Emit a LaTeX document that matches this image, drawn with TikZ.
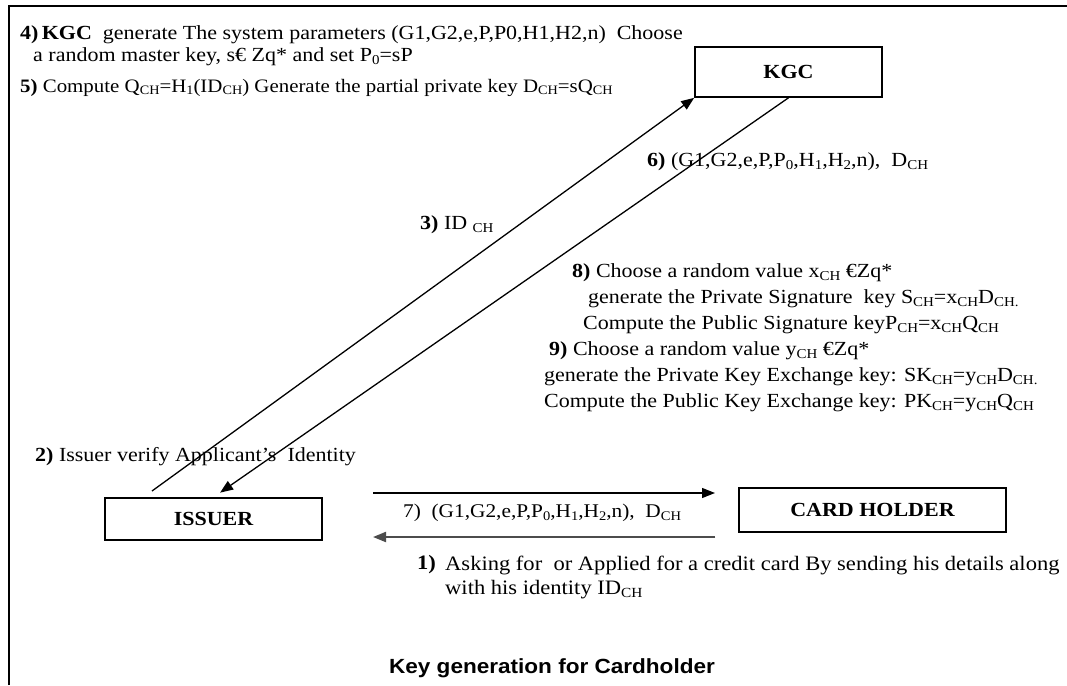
\documentclass[tikz,border=0pt]{standalone}
\usepackage{fontspec}
\setmainfont{Liberation Serif}[FakeStretch=1.1]
\newfontfamily\titlefont{Liberation Sans}[FakeStretch=1.1]
\usetikzlibrary{arrows.meta}
% small lowered index letters, as in D_CH, P_0, H_1
\newcommand\sbx[1]{\raisebox{-0.12em}{\scalebox{0.68}{#1}}}
\newcommand\fs[1]{\fontsize{#1}{24}\selectfont}
\tikzset{
  box/.style={draw, line width=1.6pt, inner sep=0pt,
    font=\fs{20}\bfseries},
  arr/.style={line width=1.3pt, -{Triangle[length=13pt,width=10pt]}},
  txt/.style={anchor=west, inner sep=0pt, font=\fs{20}},
  ttl/.style={inner sep=0pt, font=\fs{20.5}\titlefont\bfseries},
}
\begin{document}
\begin{tikzpicture}[x=1pt,y=-1pt]
\fill[white] (0,0) rectangle (1067,685);
\useasboundingbox (0,0) rectangle (1067,685);
% frame
\draw[line width=1.8pt] (9,685) -- (9,6) -- (1067,6);

% parties
\node[box, minimum width=187pt, minimum height=50pt] (kgc) at (788.5,72) {KGC};
\node[box, minimum width=217pt, minimum height=42pt] (iss) at (213.5,519) {ISSUER};
\node[box, minimum width=267pt, minimum height=44pt] (ch) at (872.5,510) {CARD HOLDER};

% KGC steps
\node[txt] (t4a) at (20,35) {\textbf{4)}\,\textbf{KGC}\ \ generate The system parameters (G1,G2,e,P,P0,H1,H2,n)\ \ Choose};
\node[txt] (t4b) at (33,57) {a random master key, s€ Zq* and set P\sbx{0}=sP};
\node[txt, font=\fs{19}] (t5) at (20,88) {\textbf{5)} Compute Q\sbx{CH}=H\sbx{1}(ID\sbx{CH}) Generate the partial private key D\sbx{CH}=sQ\sbx{CH}};

% issuer <-> KGC
\coordinate (s3) at (152,491);
\draw[arr] (s3) -- (kgc.south west);
\draw[arr, shorten >=8pt] (kgc.south) -- (iss.north);
\node[txt] (t6) at (647,162) {\textbf{6)} (G1,G2,e,P,P\sbx{0},H\sbx{1},H\sbx{2},n),\ \ D\sbx{CH}};
\node[txt] (t3) at (420,225) {\textbf{3)} ID \sbx{CH}};

% card holder steps
\node[txt] (t8a) at (572,273) {\textbf{8)} Choose a random value x\sbx{CH} €Zq*};
\node[txt] (t8b) at (588,299) {generate the Private Signature\ \ key S\sbx{CH}=x\sbx{CH}D\sbx{CH.}};
\node[txt] (t8c) at (583,325) {Compute the Public Signature keyP\sbx{CH}=x\sbx{CH}Q\sbx{CH}};
\node[txt] (t9a) at (549,351) {\textbf{9)} Choose a random value y\sbx{CH} €Zq*};
\node[txt] (t9b) at (544,377) {generate the Private Key Exchange key: SK\sbx{CH}=y\sbx{CH}D\sbx{CH.}};
\node[txt] (t9c) at (544,403) {Compute the Public Key Exchange key: PK\sbx{CH}=y\sbx{CH}Q\sbx{CH}};

\node[txt] (t2) at (35,457) {\textbf{2)} Issuer verify Applicant’s\ \ Identity};

% issuer <-> card holder
\coordinate (a7s) at (373,493);
\coordinate (a7e) at (715,493);
\draw[arr] (a7s) -- (a7e);
\node[txt, font=\fs{19.4}] (t7) at (403,513) {7)\ \ (G1,G2,e,P,P\sbx{0},H\sbx{1},H\sbx{2},n),\ \ D\sbx{CH}};
\coordinate (a1s) at (715,537);
\coordinate (a1e) at (373,537);
\draw[arr, line width=2pt, draw=black!70, fill=black] (a1s) -- (a1e);
\node[txt, font=\fs{20.5}] (t1n) at (417,565) {\textbf{1)}};
\node[txt, font=\fs{20.5}] (t1a) at (445,565) {Asking for\ \ or Applied for a credit card By sending his details along};
\node[txt, font=\fs{20.5}] (t1b) at (445,590) {with his identity ID\sbx{CH}};

\node[ttl] (title) at (552,668) {Key generation for Cardholder};
\end{tikzpicture}
\end{document}
